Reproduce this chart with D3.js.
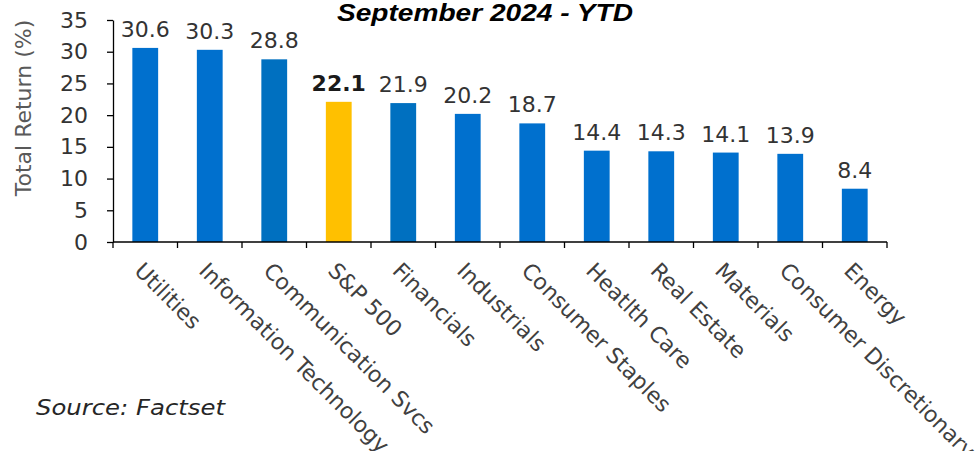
<!DOCTYPE html>
<html>
<head>
<meta charset="utf-8">
<script src="https://cdn.jsdelivr.net/npm/d3@7"></script>
<style>
  html, body { margin: 0; padding: 0; background: #fff; }
  #container { width: 977px; height: 451px; }
  text { font-family: 'DejaVu Sans', sans-serif; }
</style>
</head>
<body>
<div id="container"></div>
<script>
const categories = ['Utilities', 'Information Technology', 'Communication Svcs', 'S&P 500', 'Financials',
  'Industrials', 'Consumer Staples', 'Heatlth Care', 'Real Estate', 'Materials',
  'Consumer Discretionary', 'Energy']
const returns = [30.6, 30.3, 28.8, 22.1, 21.9, 20.2, 18.7, 14.4, 14.3, 14.1, 13.9, 8.4]
const yTicks = [0, 5, 10, 15, 20, 25, 30, 35]
const benchmark = 'S&P 500'
const title = 'September 2024 - YTD'
const yLabel = 'Total Return (%)'
const source = 'Source: Factset'

function barColor (d) {
  if (d === benchmark) return '#FFC000'
  if (d === 'Communication Svcs' || d === 'Financials') return '#0070C0'
  return '#0070CE'
}

function drawChart () {
  const width = 977
  const height = 451
  const margin = { top: 20, right: 90, bottom: 209, left: 113 }
  const innerH = height - margin.top - margin.bottom

  const data = categories.map((c, i) => ({ label: c, value: returns[i] }))

  const svg = d3.select('#container')
    .append('svg')
    .attr('width', width)
    .attr('height', height)

  const g = svg.append('g')
    .attr('transform', `translate(${margin.left},${margin.top})`)

  const xScale = d3.scaleBand()
    .domain(categories)
    .range([0, width - margin.left - margin.right])
    .paddingInner(0.6)
    .paddingOuter(0.3)
  const yScale = d3.scaleLinear()
    .domain([0, 35])
    .range([innerH, 0])

  // bars
  g.selectAll('.bar')
    .data(data)
    .enter()
    .append('rect')
    .attr('class', 'bar')
    .attr('x', d => xScale(d.label))
    .attr('y', d => yScale(d.value))
    .attr('width', xScale.bandwidth())
    .attr('height', d => innerH - yScale(d.value))
    .attr('fill', d => barColor(d.label))

  // value labels
  g.selectAll('.val')
    .data(data)
    .enter()
    .append('text')
    .attr('class', 'val')
    .attr('x', d => xScale(d.label) + xScale.bandwidth() / 2)
    .attr('y', d => yScale(d.value) - 11)
    .attr('text-anchor', 'middle')
    .attr('font-size', 22)
    .attr('font-weight', d => d.label === benchmark ? 'bold' : 'normal')
    .attr('fill', d => d.label === benchmark ? '#1a1a1a' : '#333')
    .text(d => d.value.toFixed(1))

  // y axis
  const yAxis = g.append('g')
    .attr('class', 'y-axis')
    .call(d3.axisLeft(yScale).tickValues(yTicks).tickSize(6).tickSizeOuter(0).tickPadding(19))
  yAxis.select('.domain').attr('stroke', '#000').attr('stroke-width', 1.3)
  yAxis.selectAll('.tick line').attr('stroke', '#000').attr('stroke-width', 1.3)
  yAxis.selectAll('.tick text')
    .attr('font-family', 'DejaVu Sans')
    .attr('font-size', 22)
    .attr('fill', '#333')

  // x axis: ticks sit on the band edges
  const step = xScale.step()
  const edges = d3.range(categories.length + 1).map(i => i * step)
  const xAxis = g.append('g')
    .attr('class', 'x-axis')
    .attr('transform', `translate(0,${innerH})`)
  xAxis.append('line')
    .attr('x1', 0)
    .attr('x2', edges[edges.length - 1])
    .attr('stroke', '#000')
    .attr('stroke-width', 1.3)
  xAxis.selectAll('.edge')
    .data(edges)
    .enter()
    .append('line')
    .attr('class', 'edge')
    .attr('x1', d => d)
    .attr('x2', d => d)
    .attr('y1', 0)
    .attr('y2', 6)
    .attr('stroke', '#000')
    .attr('stroke-width', 1.3)
  xAxis.selectAll('.cat')
    .data(categories)
    .enter()
    .append('text')
    .attr('class', 'cat')
    .attr('transform', d => `translate(${xScale(d) + xScale.bandwidth() / 2 - 12},30) rotate(45)`)
    .attr('text-anchor', 'start')
    .attr('font-size', 22)
    .attr('fill', '#404040')
    .text(d => d)

  // y title
  svg.append('text')
    .attr('transform', `translate(31,${margin.top + 88}) rotate(-90)`)
    .attr('text-anchor', 'middle')
    .attr('font-size', 22)
    .attr('fill', '#595959')
    .text(yLabel)

  // chart title
  svg.append('text')
    .attr('x', 337)
    .attr('y', 21)
    .attr('textLength', 296)
    .attr('lengthAdjust', 'spacingAndGlyphs')
    .style('font-family', "'Liberation Sans', Arial, sans-serif")
    .attr('font-size', 23)
    .attr('font-weight', 'bold')
    .attr('font-style', 'italic')
    .attr('fill', '#000')
    .text(title)

  // source note
  svg.append('text')
    .attr('x', 36)
    .attr('y', 415)
    .attr('textLength', 189)
    .attr('lengthAdjust', 'spacingAndGlyphs')
    .attr('font-size', 22)
    .attr('font-style', 'italic')
    .attr('fill', '#262626')
    .text(source)
}

drawChart()
</script>
</body>
</html>
